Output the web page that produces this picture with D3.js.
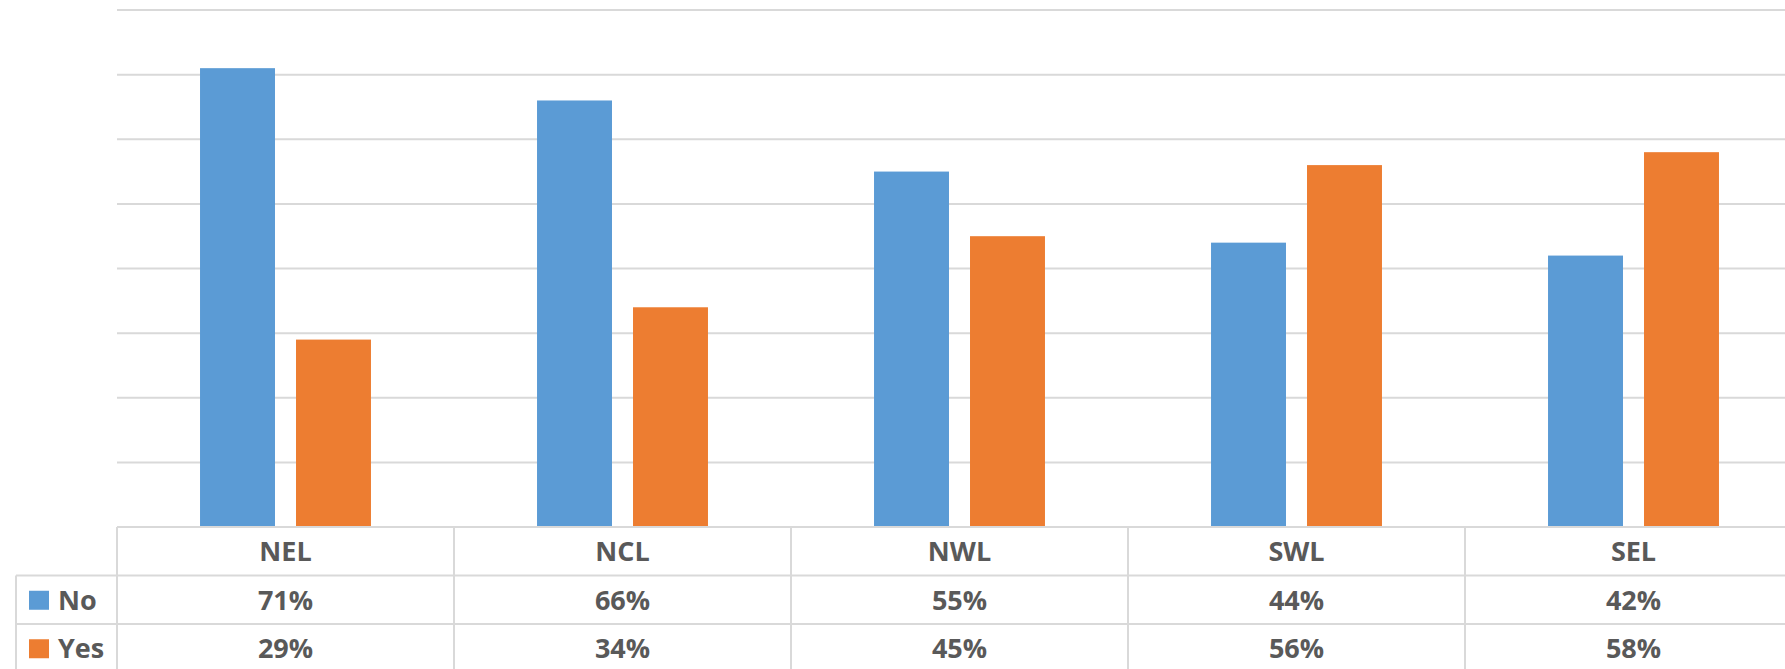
<!DOCTYPE html>
<html>
<head>
<meta charset="utf-8">
<script src="https://cdn.jsdelivr.net/npm/d3@7"></script>
<style>
  body { margin: 0; background: #fff; }
  svg { display: block; }
  text { font-family: "Open Sans", sans-serif; font-weight: bold; fill: #595959; }
</style>
</head>
<body>
<div id="chart"></div>
<script>
var w = 1785,
    h = 669;

// Data
var categories = ["NEL", "NCL", "NWL", "SWL", "SEL"];
var seriesNames = ["No", "Yes"];
var noValues = [71, 66, 55, 44, 42];
var yesValues = [29, 34, 45, 56, 58];
var yTicks = [0, 10, 20, 30, 40, 50, 60, 70, 80];

var colors = { No: "#5B9BD5", Yes: "#ED7D31" };
var gridColor = "#d9d9d9";

var rows = categories.map(function(c, i) {
  return { cat: c, No: noValues[i], Yes: yesValues[i] };
});

var svg = d3.select("#chart")
  .append("svg")
  .attr("width", w)
  .attr("height", h);

// plot area (right side runs off the picture, like the reference)
var plotLeft = 117, bandW = 337,
    plotTop = 10, base = 527,
    rowH = 48.5;

var x0 = d3.scaleBand()
  .domain(categories)
  .range([plotLeft, plotLeft + bandW * categories.length])
  .paddingInner(0).paddingOuter(0);

var x1 = d3.scaleBand()
  .domain(seriesNames)
  .range([0, x0.bandwidth()])
  .paddingInner(0.219)
  .paddingOuter(0.865);

var y = d3.scaleLinear()
  .domain([0, 80])
  .range([base, plotTop]);

//Gridlines
svg.append("g")
  .selectAll("line")
  .data(yTicks.slice(1))
  .enter()
  .append("line")
  .attr("x1", plotLeft)
  .attr("x2", w)
  .attr("y1", function(d) { return y(d); })
  .attr("y2", function(d) { return y(d); })
  .attr("stroke", gridColor)
  .attr("stroke-width", 2);

//Bars
var groups = svg.append("g")
  .selectAll("g")
  .data(rows)
  .enter()
  .append("g")
  .attr("transform", function(d) { return "translate(" + x0(d.cat) + ",0)"; });

groups.selectAll("rect")
  .data(function(d) { return seriesNames.map(function(s) { return { key: s, value: d[s] }; }); })
  .enter()
  .append("rect")
  .attr("x", function(d) { return x1(d.key); })
  .attr("y", function(d) { return y(d.value); })
  .attr("width", x1.bandwidth())
  .attr("height", function(d) { return base - y(d.value); })
  .attr("fill", function(d) { return colors[d.key]; });

////////////////////////////////////////////
/////////// Data table /////////////////////
////////////////////////////////////////////
var tbl = svg.append("g").attr("class", "table");
var legendLeft = 16;
var rowTops = [base, base + rowH, base + rowH * 2, base + rowH * 3];

// horizontal lines
tbl.append("line")
  .attr("x1", plotLeft).attr("x2", w)
  .attr("y1", base).attr("y2", base)
  .attr("stroke", gridColor).attr("stroke-width", 2);
tbl.selectAll("line.h")
  .data([rowTops[1], rowTops[2]])
  .enter()
  .append("line")
  .attr("class", "h")
  .attr("x1", legendLeft).attr("x2", w)
  .attr("y1", function(d) { return d; })
  .attr("y2", function(d) { return d; })
  .attr("stroke", gridColor).attr("stroke-width", 2);

// vertical lines
tbl.selectAll("line.v")
  .data(categories)
  .enter()
  .append("line")
  .attr("class", "v")
  .attr("x1", function(d) { return x0(d); })
  .attr("x2", function(d) { return x0(d); })
  .attr("y1", base).attr("y2", h)
  .attr("stroke", gridColor).attr("stroke-width", 2);
tbl.append("line")
  .attr("x1", legendLeft).attr("x2", legendLeft)
  .attr("y1", rowTops[1]).attr("y2", h)
  .attr("stroke", gridColor).attr("stroke-width", 2);

// header
tbl.selectAll("text.cat")
  .data(categories)
  .enter()
  .append("text")
  .attr("class", "cat")
  .attr("x", function(d) { return x0(d) + x0.bandwidth() / 2; })
  .attr("y", base + rowH / 2 + 10)
  .attr("text-anchor", "middle")
  .attr("font-size", "27px")
  .text(function(d) { return d; });

// series rows
var valueRows = [noValues, yesValues];
seriesNames.forEach(function(s, si) {
  var rowMid = rowTops[si + 1] + rowH / 2;
  tbl.append("rect")
    .attr("x", 29).attr("y", rowMid - 9)
    .attr("width", 20).attr("height", 19)
    .attr("fill", colors[s]);
  tbl.append("text")
    .attr("x", 58).attr("y", rowMid + 10)
    .attr("font-size", "27px")
    .text(s);
  tbl.selectAll("text.v" + si)
    .data(valueRows[si])
    .enter()
    .append("text")
    .attr("class", "v" + si)
    .attr("x", function(d, i) { return x0(categories[i]) + x0.bandwidth() / 2; })
    .attr("y", rowMid + 10)
    .attr("text-anchor", "middle")
    .attr("font-size", "27px")
    .text(function(d) { return d + "%"; });
});
</script>
</body>
</html>
